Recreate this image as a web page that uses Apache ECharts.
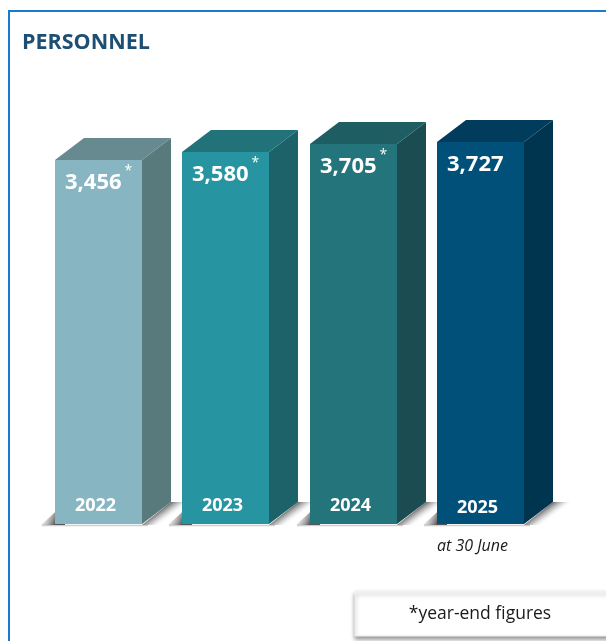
<!DOCTYPE html>
<html>
<head>
<meta charset="utf-8">
<script src="https://cdn.jsdelivr.net/npm/echarts@6/dist/echarts.min.js"></script>
<style>
  html, body { margin: 0; padding: 0; background: #ffffff; }
  #chart { width: 606px; height: 641px; }
</style>
</head>
<body>
<div id="chart"></div>
<script>
// Headcount per year
const years = ['2022', '2023', '2024', '2025'];
const personnel = [3456, 3580, 3705, 3727];
const yearEnd = [true, true, true, false];   // marked with * (year-end figures)
const subNotes = ['', '', '', 'at 30 June'];

// Face colours for each box: front, side, top
const faceColors = [
  { front: '#87b6c2', side: '#587a7c', top: '#678a90' },
  { front: '#2795a1', side: '#1c6268', top: '#217279' },
  { front: '#23747b', side: '#1a4c51', top: '#1e5d62' },
  { front: '#01507a', side: '#003550', top: '#013c5d' }
];

const AXIS_MIN = -2250;
const AXIS_MAX = 4000;
const BOX_W = 87, DEPTH_X = 29, DEPTH_Y = -22, SHADOW_W = 18;

const fmt = v => v.toLocaleString('en-US');

function renderBox(params, api) {
  const i = params.dataIndex;
  const cat = api.value(0);
  const val = api.value(1);
  const topPt = api.coord([cat, val]);
  const basePt = api.coord([cat, AXIS_MIN]);
  const x0 = Math.round(topPt[0] - BOX_W / 2);
  const x1 = x0 + BOX_W;
  const yT = Math.round(topPt[1]);
  const yB = Math.round(basePt[1]);
  const c = faceColors[i];

  // shadow band that falls off the side face's lower edge
  const mx = x1 + DEPTH_X / 2, my = yB + DEPTH_Y / 2;
  const sideShadow = new echarts.graphic.LinearGradient(
    mx, my, mx + 7, my + 9.5,
    [
      { offset: 0, color: 'rgba(85,85,85,0.85)' },
      { offset: 0.45, color: 'rgba(150,150,150,0.5)' },
      { offset: 1, color: 'rgba(255,255,255,0)' }
    ], true
  );
  const leftShadow = new echarts.graphic.LinearGradient(
    x0, yB, x0 - 14, yB - 6,
    [
      { offset: 0, color: 'rgba(70,70,70,0.9)' },
      { offset: 1, color: 'rgba(190,190,190,0.1)' }
    ], true
  );

  const children = [
    // floor line
    {
      type: 'line',
      shape: { x1: x0 - 13, y1: yB + 1.5, x2: x1 + 6, y2: yB + 1.5 },
      style: { stroke: '#cfcfcf', lineWidth: 1.5 }
    },
    {
      type: 'polygon',
      shape: { points: [[x0 - 14, yB + 1], [x0 + 10, yB - 21], [x0 + 10, yB + 1]] },
      style: { fill: leftShadow }
    },
    {
      type: 'polygon',
      shape: { points: [[x1, yB + 1], [x1 + DEPTH_X, yB + DEPTH_Y], [x1 + DEPTH_X + SHADOW_W, yB + DEPTH_Y], [x1 + SHADOW_W, yB + 1]] },
      style: { fill: sideShadow }
    },
    // side face
    {
      type: 'polygon',
      shape: { points: [[x1, yT], [x1 + DEPTH_X, yT + DEPTH_Y], [x1 + DEPTH_X, yB + DEPTH_Y], [x1, yB]] },
      style: { fill: c.side }
    },
    // top face
    {
      type: 'polygon',
      shape: { points: [[x0, yT], [x0 + DEPTH_X, yT + DEPTH_Y], [x1 + DEPTH_X, yT + DEPTH_Y], [x1, yT]] },
      style: { fill: c.top }
    },
    // front face
    {
      type: 'rect',
      shape: { x: x0, y: yT, width: BOX_W, height: yB - yT },
      style: { fill: c.front }
    },
    // value
    {
      type: 'text',
      style: {
        x: x0 + 10, y: yT + 23, text: fmt(val),
        fill: '#ffffff', font: 'bold 22px "Open Sans"',
        textAlign: 'left', textVerticalAlign: 'middle'
      }
    },
    // year
    {
      type: 'text',
      style: {
        x: x0 + BOX_W / 2 - 3, y: yB - 18 + (subNotes[i] ? 2 : 0), text: years[i],
        fill: '#ffffff', font: 'bold 18px "Open Sans"',
        textAlign: 'center', textVerticalAlign: 'middle'
      }
    }
  ];

  if (yearEnd[i]) {
    const w = echarts.format.getTextRect
      ? echarts.format.getTextRect(fmt(val), 'bold 22px "Open Sans"').width
      : 58;
    children.push({
      type: 'text',
      style: {
        x: x0 + 10 + w + 3, y: yT + 11, text: '*',
        fill: '#ffffff', font: '14px "Open Sans"',
        textAlign: 'left', textVerticalAlign: 'middle'
      }
    });
  }
  if (subNotes[i]) {
    children.push({
      type: 'text',
      style: {
        x: x0 + BOX_W / 2 - 8, y: yB + 22, text: subNotes[i],
        fill: '#1a1a1a', font: 'italic 16px "Open Sans"',
        textAlign: 'center', textVerticalAlign: 'middle'
      }
    });
  }
  return { type: 'group', children };
}

const chart = echarts.init(document.getElementById('chart'), null, { renderer: 'canvas' });
chart.setOption({
  animation: false,
  backgroundColor: '#ffffff',
  grid: { left: 35, right: 62, top: 125, bottom: 641 - 524 },
  xAxis: {
    type: 'category', data: years, show: false
  },
  yAxis: {
    type: 'value', min: AXIS_MIN, max: AXIS_MAX, show: false
  },
  series: [{
    type: 'custom',
    renderItem: renderBox,
    encode: { x: 0, y: 1 },
    data: personnel.map((v, i) => [i, v]),
    clip: false
  }],
  graphic: [
    // frame
    { type: 'line', shape: { x1: 8, y1: 11, x2: 606, y2: 11 }, style: { stroke: '#1a7ad0', lineWidth: 2 }, z: 10 },
    { type: 'line', shape: { x1: 9, y1: 10, x2: 9, y2: 641 }, style: { stroke: '#1a7ad0', lineWidth: 2 }, z: 10 },
    // title
    {
      type: 'text', left: 22, top: 32,
      style: { text: 'PERSONNEL', fill: '#1d4e73', font: 'bold 21.5px "Open Sans"' }
    },
    // footnote box
    {
      type: 'rect', shape: { x: 355, y: 591, width: 270, height: 45 },
      style: {
        fill: '#ffffff', stroke: '#f0f0f0', lineWidth: 1,
        shadowBlur: 4, shadowOffsetY: 3, shadowColor: 'rgba(0,0,0,0.4)'
      }
    },
    {
      type: 'text', x: 480, y: 614,
      style: {
        text: '*year-end figures', fill: '#1a1a1a', font: '17.5px "Open Sans"',
        textAlign: 'center', textVerticalAlign: 'middle'
      }
    }
  ]
});
</script>
</body>
</html>
